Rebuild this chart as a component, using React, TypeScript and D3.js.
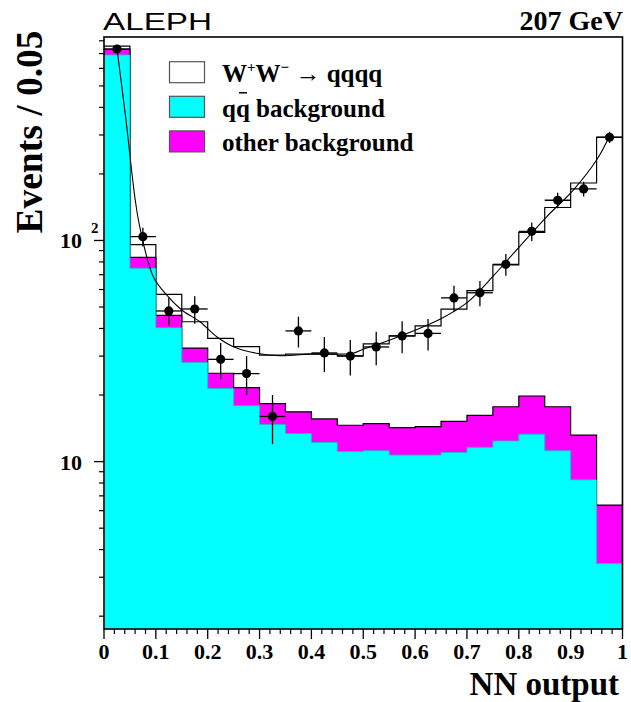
import React from 'react';
import * as d3 from 'd3';

// ---- data ----
const binLow = [0, 0.05, 0.1, 0.15, 0.2, 0.25, 0.3, 0.35, 0.4, 0.45, 0.5, 0.55, 0.6, 0.65, 0.7, 0.75, 0.8, 0.85, 0.9, 0.95];
const binWidth = 0.05;
const qqBackground = [690, 74.9, 40.3, 28.1, 21.4, 17.9, 14.7, 13.4, 12.2, 11.1, 11.2, 10.7, 10.7, 11.0, 11.6, 12.4, 13.3, 11.2, 8.27, 3.46];
const otherBackground = [44, 9.0, 5.5, 4.5, 3.7, 3.7, 3.6, 3.4, 3.4, 3.5, 3.65, 3.55, 3.7, 4.2, 4.6, 5.3, 6.5, 6.5, 4.9, 2.9];
const wwSignal = [23, 11.8, 11.2, 10.3, 11.0, 11.5, 12.0, 13.8, 15.0, 15.5, 19.2, 22.8, 26.7, 33.7, 43.1, 59.8, 89.1, 123.3, 168.8, 286.6];
const dataCounts = [734, 104, 48, 49, 29, 25, 16, 39, 31, 30, 33, 37, 38, 55, 58, 78, 110, 152, 171, 293];
const dataErrors = [27, 10.2, 6.9, 7.0, 5.4, 5.0, 4.0, 6.2, 5.6, 5.5, 5.7, 6.1, 6.2, 7.4, 7.6, 8.8, 10.5, 12.3, 13.1, 17.1];
const fitNN = [0.0251, 0.0424, 0.0598, 0.0694, 0.0951, 0.1209, 0.1499, 0.1851, 0.2174, 0.2494, 0.2945, 0.3394, 0.4038, 0.4444, 0.4803, 0.4999, 0.5516, 0.6094, 0.648, 0.6995, 0.7508, 0.7898, 0.8537, 0.9051, 0.95, 0.974];
const fitValues = [734, 350, 155, 114, 68.6, 56.7, 48.5, 42.9, 36.7, 33.1, 30.9, 30.1, 30.7, 30.6, 30.9, 32.2, 35.5, 40.1, 44.0, 52.2, 69.1, 87.5, 128, 169, 231, 294];
const xTicksMajor = [0, 0.1, 0.2, 0.3, 0.4, 0.5, 0.6, 0.7, 0.8, 0.9, 1];
const xTickLabels = ['0', '0.1', '0.2', '0.3', '0.4', '0.5', '0.6', '0.7', '0.8', '0.9', '1'];
const yTicksMinor = [2, 3, 4, 5, 6, 7, 8, 9, 20, 30, 40, 50, 60, 70, 80, 90, 200, 300, 400, 500, 600, 700, 800];
const yTicksMajor = [10, 100];
const legendLabels = ['W+W- → qqqq', 'qq background', 'other background'];

const W = 631;
const H = 702;
const Y_MIN = 1.75;
const Y_MAX = 832;

const SERIF = '"Liberation Serif", "Times New Roman", Times, serif';
const SANS = '"Liberation Sans", Arial, Helvetica, sans-serif';

export default function App() {
  const x = d3.scaleLinear().domain([0, 1]).range([104, 622.5]);
  const y = d3.scaleLog().domain([Y_MIN, Y_MAX]).range([629, 37]);

  const cumOther = qqBackground.map((q, i) => q + otherBackground[i]);
  const cumTotal = cumOther.map((v, i) => v + wwSignal[i]);

  const stepArea = (vals: number[]) => {
    const pts: [number, number][] = [[x(0), y(Y_MIN)]];
    vals.forEach((v, i) => {
      pts.push([x(binLow[i]), y(v)]);
      pts.push([x(binLow[i] + binWidth), y(v)]);
    });
    pts.push([x(1), y(Y_MIN)]);
    return (d3.line()(pts) || '') + 'Z';
  };
  const stepLine = (vals: number[]) => {
    const pts: [number, number][] = [];
    vals.forEach((v, i) => {
      pts.push([x(binLow[i]), y(v)]);
      pts.push([x(binLow[i] + binWidth), y(v)]);
    });
    return d3.line()(pts) || '';
  };

  const fitLine = d3
    .line<number>()
    .x((_, i) => x(fitNN[i]))
    .y((d) => y(d))
    .curve(d3.curveCatmullRom.alpha(0.5))(fitValues) || '';

  const xMinor: number[] = d3.range(0, 50).map((i) => i * 0.02).filter((v) => Math.abs(v * 10 - Math.round(v * 10)) > 1e-6);

  const legendRows = [
    { fill: '#ffffff', label: legendLabels[0] },
    { fill: '#00ffff', label: legendLabels[1] },
    { fill: '#ff00ff', label: legendLabels[2] },
  ];

  return (
    <svg
      width={W}
      height={H}
      viewBox={`0 0 ${W} ${H}`}
      style={{ position: 'absolute', left: 0, top: 0, background: '#fff' }}
    >
      <rect x={0} y={0} width={W} height={H} fill="#fff" />
      <defs>
        <clipPath id="plotclip">
          <rect x={x(0)} y={y(Y_MAX)} width={x(1) - x(0)} height={y(Y_MIN) - y(Y_MAX)} />
        </clipPath>
      </defs>

      <g clipPath="url(#plotclip)">
        {/* total MC (WW on top) */}
        <path d={stepArea(cumTotal)} fill="#fff" stroke="#000" strokeWidth={1.2} />
        {/* other background stacked on qq */}
        <path d={stepArea(cumOther)} fill="#ff00ff" stroke="#000" strokeWidth={1.2} />
        {/* qq background */}
        <path d={stepArea(qqBackground)} fill="#00ffff" stroke="none" />
        <path d={stepLine(qqBackground)} fill="none" stroke="#00c8c8" strokeWidth={0.8} />

        {/* fit curve */}
        <path d={fitLine} fill="none" stroke="#000" strokeWidth={1.1} />

        {/* data points */}
        {dataCounts.map((c, i) => {
          const cx = x(binLow[i] + binWidth / 2);
          const cy = y(c);
          return (
            <g key={i}>
              <line x1={x(binLow[i])} x2={x(binLow[i] + binWidth)} y1={cy} y2={cy} stroke="#000" strokeWidth={1.3} />
              <line x1={cx} x2={cx} y1={y(c + dataErrors[i])} y2={y(Math.max(c - dataErrors[i], Y_MIN))} stroke="#000" strokeWidth={1.3} />
              <circle cx={cx} cy={cy} r={4.6} fill="#000" />
            </g>
          );
        })}
      </g>

      {/* frame */}
      <rect x={x(0)} y={y(Y_MAX)} width={x(1) - x(0)} height={y(Y_MIN) - y(Y_MAX)} fill="none" stroke="#000" strokeWidth={1.6} />

      {/* x ticks */}
      {xTicksMajor.map((t) => (
        <line key={'xM' + t} x1={x(t)} x2={x(t)} y1={y(Y_MIN)} y2={y(Y_MIN) + 10} stroke="#000" strokeWidth={1.3} />
      ))}
      {xMinor.map((t) => (
        <line key={'xm' + t} x1={x(t)} x2={x(t)} y1={y(Y_MIN)} y2={y(Y_MIN) + 5} stroke="#000" strokeWidth={1.2} />
      ))}
      {xTicksMajor.map((t, i) => (
        <text key={'xl' + t} x={x(t)} y={659} textAnchor="middle" fontFamily={SERIF} fontWeight="bold" fontSize={22} fill="#000">
          {xTickLabels[i]}
        </text>
      ))}

      {/* y ticks */}
      {yTicksMajor.map((t) => (
        <line key={'yM' + t} x1={x(0) - 10} x2={x(0)} y1={y(t)} y2={y(t)} stroke="#000" strokeWidth={1.3} />
      ))}
      {yTicksMinor.map((t) => (
        <line key={'ym' + t} x1={x(0) - 5} x2={x(0)} y1={y(t)} y2={y(t)} stroke="#000" strokeWidth={1.2} />
      ))}
      <text x={82} y={y(10) + 8} textAnchor="end" fontFamily={SERIF} fontWeight="bold" fontSize={22} fill="#000">10</text>
      <text x={82} y={y(100) + 8} textAnchor="end" fontFamily={SERIF} fontWeight="bold" fontSize={22} fill="#000">10</text>
      <text x={91} y={y(100) - 7} textAnchor="start" fontFamily={SERIF} fontWeight="bold" fontSize={15} fill="#000">2</text>

      {/* axis titles */}
      <text x={619} y={694.5} textAnchor="end" fontFamily={SERIF} fontWeight="bold" fontSize={33} fill="#000">NN output</text>
      <text transform={`translate(42,132) rotate(-90)`} textAnchor="middle" fontFamily={SERIF} fontWeight="bold" fontSize={37.5} fill="#000">
        Events / 0.05
      </text>

      {/* titles */}
      <text x={103} y={30} fontFamily={SANS} fontSize={24} textLength={109} lengthAdjust="spacingAndGlyphs" fill="#000">ALEPH</text>
      <text x={623} y={30} textAnchor="end" fontFamily={SERIF} fontWeight="bold" fontSize={28} fill="#000">207 GeV</text>

      {/* legend */}
      {legendRows.map((r, i) => {
        const cy = 72.2 + i * 34.6;
        return (
          <g key={i}>
            <rect x={169.5} y={cy - 10.5} width={35} height={21} fill={r.fill} stroke="#555" strokeWidth={1.2} />
            {i === 0 ? (
              <text x={222} y={cy + 10} fontFamily={SERIF} fontWeight="bold" fontSize={25} fill="#000">
                W<tspan fontSize={15} dy={-10}>+</tspan>
                <tspan dy={10}>W</tspan>
                <tspan fontSize={15} dy={-10}>−</tspan>
                <tspan dy={10}> → qqqq</tspan>
              </text>
            ) : i === 1 ? (
              <g>
                <text x={222} y={cy + 10} fontFamily={SERIF} fontWeight="bold" fontSize={25} fill="#000">
                  qq background
                </text>
                <line x1={239} x2={247} y1={cy - 14} y2={cy - 14} stroke="#000" strokeWidth={1.5} />
              </g>
            ) : (
              <text x={222} y={cy + 10} fontFamily={SERIF} fontWeight="bold" fontSize={25} fill="#000">
                {r.label}
              </text>
            )}
          </g>
        );
      })}
    </svg>
  );
}
